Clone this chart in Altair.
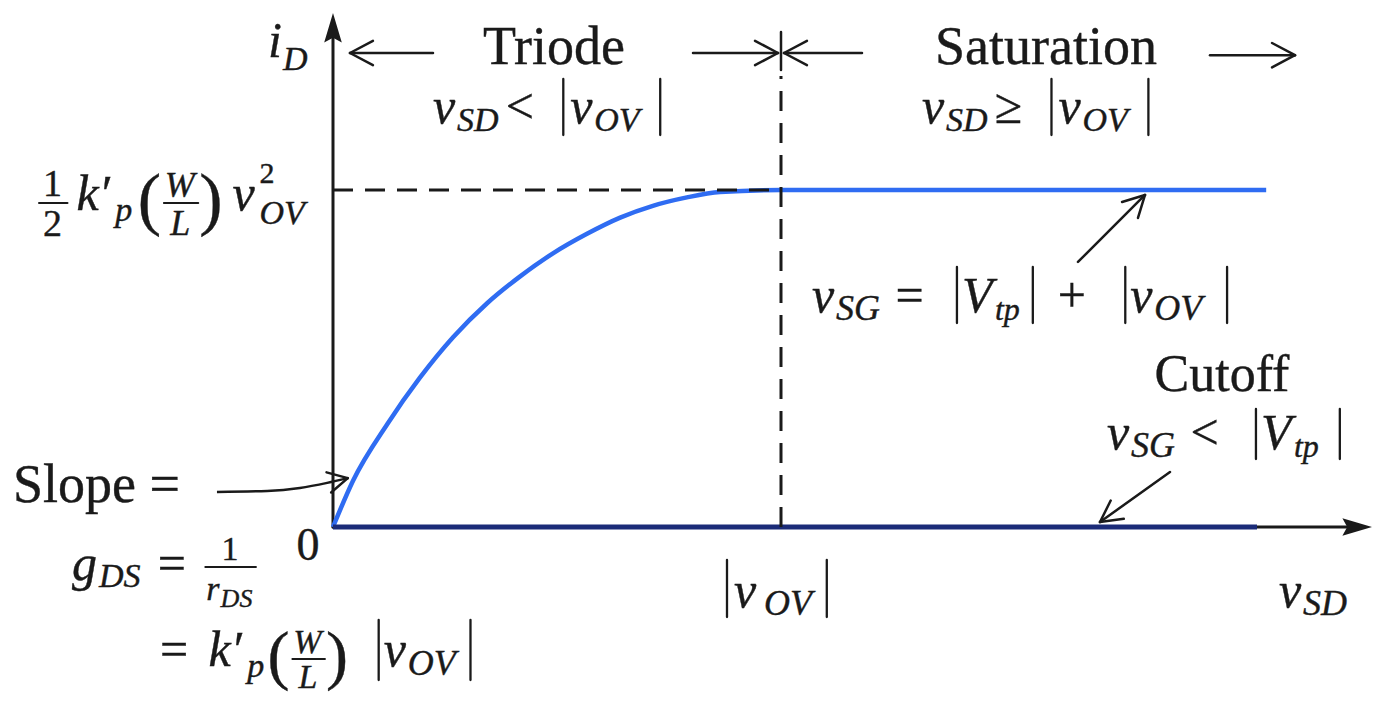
import math
import altair as alt
import pandas as pd

# ---- characteristic curve (v_SD in units of |v_OV|, i_D in units of the saturation current)
vsd_triode = [0.0, 0.045, 0.121, 0.194, 0.268, 0.344, 0.417, 0.491, 0.567, 0.641, 0.714, 0.790, 0.864, 1.0]
id_triode = [0.0, 0.138, 0.305, 0.443, 0.563, 0.664, 0.743, 0.812, 0.870, 0.918, 0.953, 0.978, 0.994, 1.0]
vsd_sat_end = 2.083
vsd_cutoff = [0.0, 2.0625]
id_cutoff = [0.0, 0.0]

# ---- canvas and scale ranges
W, H = 1378, 702
X_DOM = [-0.7433, 2.3326]
Y_DOM = [-0.5193, 1.5638]
KX = W / (X_DOM[1] - X_DOM[0])   # px per unit of v_SD
KY = H / (Y_DOM[1] - Y_DOM[0])   # px per unit of i_D

FONT = "Liberation Serif"
INK = "#1a1a1a"
BLUE = "#2f6cf2"
NAVY = "#1b2b78"
TRACK = 1.08

ROMAN = {" ": .25, "=": .564, "<": .564, "≥": .549, "+": .564, "0": .5, "1": .5, "2": .5,
         "(": .333, ")": .333, "′": .275}
ITALIC = {"i": .278, "D": .722, "S": .5, "O": .722, "V": .611, "G": .722, "k": .444, "p": .5,
          "W": .833, "L": .556, "g": .5, "r": .389, "v": .444, "t": .278, "2": .5, "′": .275}


def text_width(s, style, size):
    table = ITALIC if style == "it" else ROMAN
    return sum(table.get(c, 0.5) for c in s) * size * TRACK


texts, segs = [], []


def seg(x, y, x2, y2, w=2.5):
    segs.append(dict(x=x, y=y, x2=x2, y2=y2, w=w))


def run(ax, ay, cx, s, style, size, rise):
    texts.append(dict(x=ax + cx / KX, y=ay + rise / KY, t=s, st=style, sz=size))
    return text_width(s, style, size)


def formula(ax, ay, items):
    """Lay out a row of text runs, absolute-value bars, stacked scripts and fractions."""
    cx = 0.0
    for it in items:
        kind = it[0]
        if kind == "t":
            cx += run(ax, ay, cx, *it[1:])
        elif kind == "gap":
            cx += it[1]
        elif kind == "abs":
            up, down = it[1], it[2]
            cx += 5
            seg(ax + cx / KX, ay + up / KY, ax + cx / KX, ay - down / KY, 2.3)
            cx += 5
        elif kind == "ss":
            # superscript and subscript sharing one horizontal slot
            w1 = run(ax, ay, cx, *it[1])
            w2 = run(ax, ay, cx, *it[2])
            cx += max(w1, w2)
        elif kind == "frac":
            num, den, bar, pad = it[1], it[2], it[3], it[4]
            wn = sum(text_width(r[0], r[1], r[2]) for r in num)
            wd = sum(text_width(r[0], r[1], r[2]) for r in den)
            wf = max(wn, wd) + 2 * pad
            for runs, wr in ((num, wn), (den, wd)):
                px = cx + (wf - wr) / 2
                for r in runs:
                    px += run(ax, ay, px, *r)
            seg(ax + (cx + 1) / KX, ay + bar / KY, ax + (cx + wf - 1) / KX, ay + bar / KY, 2.0)
            cx += wf


def head(x1, y1, ang, size=26, spread=28, w=2.5):
    for s in (1, -1):
        a = ang + math.pi + s * math.radians(spread)
        seg(x1, y1, x1 + size * math.cos(a) / KX, y1 + size * math.sin(a) / KY, w)


def arrow(x0, y0, x1, y1, size=26, spread=28, w=2.5):
    seg(x0, y0, x1, y1, w)
    head(x1, y1, math.atan2((y1 - y0) * KY, (x1 - x0) * KX), size, spread, w)


# ---- formulas
M, S = 50, 36
formula(-0.1451, 1.3947, [("t", "i", "it", M, 0), ("t", "D", "it", 34, -13)])

for x0, rel in ((0.2232, "<"), (1.3147, "≥")):
    formula(x0, 1.1988, [("t", "v", "it", M, 0), ("t", "SD", "it", 34, -8), ("gap", 4),
                         ("t", rel, "rm", M, 0), ("gap", 22), ("abs", 44, 12), ("gap", 2),
                         ("t", "v", "it", M, 0), ("t", "OV", "it", 34, -8), ("gap", 12),
                         ("abs", 44, 12)])

formula(-0.6585, 0.9407, [
    ("frac", [("1", "rm", 38, 14)], [("2", "rm", 38, -26)], 7, 5), ("gap", 8),
    ("t", "k′", "it", M, 0), ("t", "p", "it", 34, -11), ("gap", 4),
    ("t", "(", "rm", 70, -12),
    ("frac", [("W", "it", 36, 13)], [("L", "it", 36, -25)], 7, 2),
    ("t", ")", "rm", 70, -12), ("gap", 8),
    ("t", "v", "it", M, 0), ("gap", 3),
    ("ss", ("2", "rm", 30, 27), ("OV", "it", 34, -14)),
])

formula(1.0692, 0.6380, [
    ("t", "v", "it", M, 0), ("t", "SG", "it", S, -8), ("gap", 12), ("t", "=", "rm", M, 0),
    ("gap", 26), ("abs", 45, 11), ("t", "V", "it", M, 0), ("t", "tp", "it", 32, -8), ("gap", 6),
    ("abs", 45, 11), ("gap", 20), ("t", "+", "rm", M, 0), ("gap", 32), ("abs", 45, 11),
    ("t", "v", "it", M, 0), ("t", "OV", "it", S, -8), ("gap", 16), ("abs", 45, 11),
])

formula(1.7277, 0.2315, [
    ("t", "v", "it", M, 0), ("t", "SG", "it", S, -8), ("gap", 12), ("t", "<", "rm", M, 0),
    ("gap", 30), ("abs", 40, 10), ("t", "V", "it", M, 0), ("t", "tp", "it", 32, -8), ("gap", 14),
    ("abs", 40, 10),
])

formula(-0.7143, 0.0742, [("t", "Slope =", "rm", 54, 0)])

formula(-0.5826, -0.1573, [
    ("t", "g", "it", M, 0), ("t", "DS", "it", 34, -7), ("gap", 14), ("t", "=", "rm", M, 0),
    ("gap", 16),
    ("frac", [("1", "rm", 34, 20)], [("r", "it", 34, -20), ("DS", "it", 26, -27)], 13, 2),
])

formula(-0.3862, -0.4125, [
    ("t", "=", "rm", M, 0), ("gap", 18), ("t", "k′", "it", M, 0), ("t", "p", "it", 34, -11),
    ("gap", 2),
    ("t", "(", "rm", 66, -11),
    ("frac", [("W", "it", 34, 13)], [("L", "it", 34, -22)], 7, 2),
    ("t", ")", "rm", 66, -11), ("gap", 24), ("abs", 46, 14),
    ("t", "v", "it", M, 0), ("t", "OV", "it", S, -9), ("gap", 6), ("abs", 46, 14),
])

formula(0.8683, -0.2374, [("abs", 47, 10), ("gap", 2), ("t", "v", "it", M, 0), ("gap", 6),
                          ("t", "OV", "it", S, -8), ("gap", 6), ("abs", 47, 10)])
formula(2.1116, -0.2374, [("t", "v", "it", M, 0), ("t", "SD", "it", S, -8)])

words = pd.DataFrame([
    dict(x=0.4933, y=1.3739, t="Triode", sz=54),
    dict(x=1.5915, y=1.3739, t="Saturation", sz=54),
    dict(x=1.9844, y=0.4036, t="Cutoff", sz=52),
    dict(x=-0.0558, y=-0.0979, t="0", sz=46),
])

# ---- region arrows and pointers
arrow(0.2232, 1.4065, 0.0379, 1.4065)
arrow(0.8036, 1.4065, 0.9933, 1.4065)
arrow(1.1808, 1.4065, 1.0067, 1.4065)
arrow(1.9576, 1.4000, 2.1473, 1.4000)
seg(1.0, 1.4688, 1.0, 1.3561, 2.5)
arrow(1.6629, 0.7864, 1.8125, 0.9852, size=24)
arrow(1.8683, 0.1632, 1.7121, 0.0148, size=24)

slope_x = [-0.259, -0.147, -0.074, -0.013, 0.033]
slope_y = [0.104, 0.107, 0.116, 0.131, 0.145]
head(slope_x[-1], slope_y[-1],
     math.atan2((slope_y[-1] - slope_y[-2]) * KY, (slope_x[-1] - slope_x[-2]) * KX), size=22)

# ---- axes
seg(0.0, 0.0, 0.0, 1.4926, 3.0)
seg(0.0, 0.0, 2.2701, 0.0, 3.0)

# ---- tables
curve = pd.DataFrame({"x": vsd_triode + [vsd_sat_end], "y": id_triode + [1.0]})
curve["i"] = range(len(curve))
cutoff = pd.DataFrame({"x": vsd_cutoff, "y": id_cutoff})
slope = pd.DataFrame({"x": slope_x, "y": slope_y, "i": range(len(slope_x))})
dashes = pd.DataFrame([dict(x=0.0, y=1.0, x2=1.0, y2=1.0), dict(x=1.0, y=0.0, x2=1.0, y2=1.3383)])
heads = pd.DataFrame([dict(x=0.0, y=1.4777, a=0), dict(x=2.2835, y=0.0, a=90)])
seg_df = pd.DataFrame(segs)
txt = pd.DataFrame(texts)

X = alt.X("x:Q", scale=alt.Scale(domain=X_DOM, nice=False, zero=False), axis=None)
Y = alt.Y("y:Q", scale=alt.Scale(domain=Y_DOM, nice=False, zero=False), axis=None)

rules = alt.Chart(seg_df).mark_rule(color=INK, strokeCap="round").encode(
    x=X, y=Y, x2="x2:Q", y2="y2:Q", strokeWidth=alt.StrokeWidth("w:Q", scale=None))
dash = alt.Chart(dashes).mark_rule(color=INK, strokeWidth=3, strokeDash=[20, 12]).encode(
    x=X, y=Y, x2="x2:Q", y2="y2:Q")
blue = alt.Chart(curve).mark_line(color=BLUE, strokeWidth=4.5, interpolate="monotone").encode(
    x=X, y=Y, order="i:Q")
navy = alt.Chart(cutoff).mark_line(color=NAVY, strokeWidth=5).encode(x=X, y=Y)
slope_line = alt.Chart(slope).mark_line(color=INK, strokeWidth=2.5, interpolate="monotone").encode(
    x=X, y=Y, order="i:Q")
tips = alt.Chart(heads).mark_point(
    shape="M0,-1L0.55,0.85L0,0.55L-0.55,0.85Z", filled=True, color=INK, size=1024, opacity=1
).encode(x=X, y=Y, angle=alt.Angle("a:Q", scale=None))


def text_layer(df, style):
    opts = dict(font=FONT, align="left", baseline="alphabetic", color=INK,
                stroke=INK, strokeWidth=0.4)
    if style == "it":
        opts["fontStyle"] = "italic"
    return alt.Chart(df).mark_text(**opts).encode(
        x=X, y=Y, text="t:N", size=alt.Size("sz:Q", scale=None))


text_layers = [text_layer(g, st) for st, g in txt.groupby("st")]

word_text = alt.Chart(words).mark_text(
    font=FONT, align="center", baseline="alphabetic", color=INK, stroke=INK, strokeWidth=0.4
).encode(x=X, y=Y, text="t:N", size=alt.Size("sz:Q", scale=None))

chart = alt.layer(
    rules, blue, navy, dash, slope_line, tips, *text_layers, word_text
).properties(
    width=W, height=H, padding=0, autosize=alt.AutoSizeParams(type="none"), background="white"
).configure_view(strokeWidth=0)

chart.save("out.html", embed_options={"renderer": "svg", "actions": False})
